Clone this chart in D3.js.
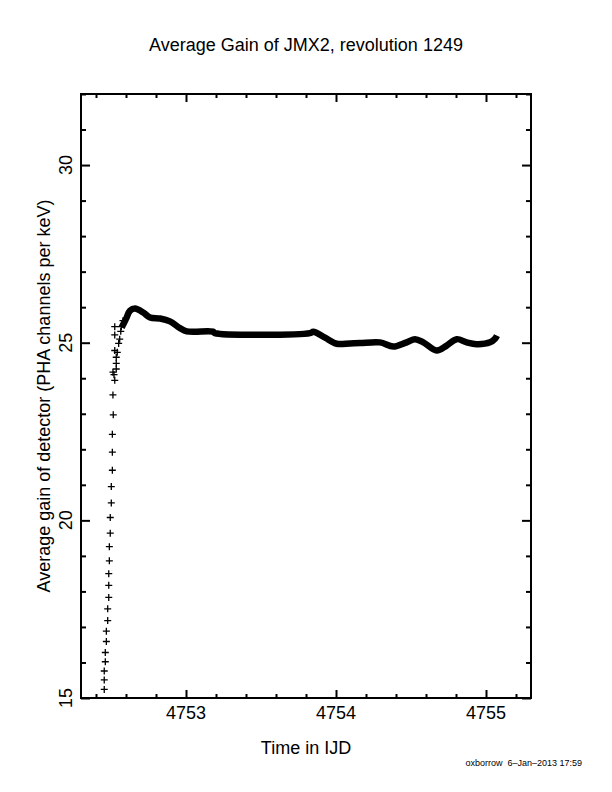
<!DOCTYPE html>
<html>
<head>
<meta charset="utf-8">
<script src="https://cdn.jsdelivr.net/npm/d3@7"></script>
<style>
  body { margin: 0; background: #fff; }
  text { font-family: "Liberation Sans", Arial, sans-serif; fill: #000; }
</style>
</head>
<body>
<script>
// early ramp: separate plus markers
var rampTime = [4752.455, 4752.455, 4752.455, 4752.462, 4752.462, 4752.469, 4752.469, 4752.478,
                4752.478, 4752.485, 4752.485, 4752.485, 4752.489, 4752.489, 4752.495, 4752.495,
                4752.502, 4752.502, 4752.509, 4752.509, 4752.509, 4752.515, 4752.513, 4752.513,
                4752.525, 4752.520, 4752.535, 4752.535, 4752.535, 4752.525, 4752.542, 4752.551,
                4752.558, 4752.525, 4752.565, 4752.525, 4752.569, 4752.580];
var rampGain = [15.24, 15.51, 15.76, 16.02, 16.28, 16.59, 16.88, 17.18,
                17.51, 17.83, 18.17, 18.50, 18.86, 19.26, 19.64, 20.08,
                20.49, 20.95, 21.41, 21.92, 22.42, 22.97, 23.53, 24.17,
                23.94, 24.10, 24.26, 24.42, 24.59, 24.78, 24.73, 24.98,
                25.10, 25.22, 25.32, 25.45, 25.45, 25.62];

// dense part: markers overlap into a thick curve
var curveTime = [4752.571, 4752.600, 4752.627, 4752.660, 4752.715, 4752.760, 4752.827, 4752.893,
                 4752.960, 4753.005, 4753.180, 4753.193, 4753.827, 4753.849, 4753.927, 4754.005,
                 4754.093, 4754.160, 4754.293, 4754.382, 4754.471, 4754.527, 4754.582, 4754.671,
                 4754.738, 4754.805, 4754.871, 4754.938, 4755.027, 4755.060, 4755.073];
var curveGain = [25.43, 25.67, 25.90, 25.96, 25.85, 25.71, 25.68, 25.60,
                 25.41, 25.32, 25.31, 25.27, 25.27, 25.31, 25.14, 24.97,
                 24.98, 24.99, 25.01, 24.89, 25.01, 25.10, 25.01, 24.78,
                 24.92, 25.10, 25.01, 24.96, 25.01, 25.11, 25.20];

var xMajor = [4753, 4754, 4755];
var yMajor = [15, 20, 25, 30];

var W = 612, H = 792;
var pLeft = 81, pRight = 531, pTop = 94, pBottom = 698;

var svg = d3.select('body').append('svg')
    .attr('width', W)
    .attr('height', H);

var x = d3.scaleLinear().domain([4752.3, 4755.3]).range([pLeft, pRight]);
var y = d3.scaleLinear().domain([15, 32]).range([pBottom, pTop]);

var xMinor = d3.range(4752.4, 4755.3, 0.2).filter(function (v) {
    return Math.abs(v - Math.round(v)) > 0.01;
});
var yMinor = d3.range(16, 32.5, 1).filter(function (v) { return v % 5 != 0; });

function ticks(axis, vals, len) {
    return axis.tickValues(vals).tickSize(-len).tickFormat('');
}

var axes = svg.append('g').attr('class', 'axes');

function drawAxis(gen, tr) {
    var g = axes.append('g').attr('transform', tr).call(gen);
    g.select('.domain').remove();
    g.selectAll('line').attr('stroke', '#000').attr('stroke-width', 2);
    return g;
}

drawAxis(ticks(d3.axisBottom(x), xMajor, 8), 'translate(0,' + pBottom + ')');
drawAxis(ticks(d3.axisBottom(x), xMinor, 4), 'translate(0,' + pBottom + ')');
drawAxis(ticks(d3.axisTop(x), xMajor, 8), 'translate(0,' + pTop + ')');
drawAxis(ticks(d3.axisTop(x), xMinor, 4), 'translate(0,' + pTop + ')');
drawAxis(ticks(d3.axisLeft(y), yMajor, 9), 'translate(' + pLeft + ',0)');
drawAxis(ticks(d3.axisLeft(y), yMinor, 5), 'translate(' + pLeft + ',0)');
drawAxis(ticks(d3.axisRight(y), yMajor, 9), 'translate(' + pRight + ',0)');
drawAxis(ticks(d3.axisRight(y), yMinor, 5), 'translate(' + pRight + ',0)');

svg.append('rect')
    .attr('x', pLeft).attr('y', pTop)
    .attr('width', pRight - pLeft).attr('height', pBottom - pTop)
    .attr('fill', 'none').attr('stroke', '#000').attr('stroke-width', 2);

// tick labels
svg.selectAll('.xlab').data(xMajor).enter().append('text')
    .attr('class', 'xlab')
    .attr('x', function (d) { return x(d); })
    .attr('y', 719)
    .attr('text-anchor', 'middle')
    .style('font-size', '18px')
    .text(function (d) { return d; });

svg.selectAll('.ylab').data(yMajor).enter().append('text')
    .attr('class', 'ylab')
    .attr('transform', function (d) { return 'translate(71.5,' + y(d) + ') rotate(-90)'; })
    .attr('text-anchor', 'middle')
    .style('font-size', '18px')
    .text(function (d) { return d; });

// data
var line = d3.line()
    .x(function (d) { return x(d[0]); })
    .y(function (d) { return y(d[1]); })
    .curve(d3.curveCatmullRom);

svg.append('path')
    .datum(d3.zip(curveTime, curveGain))
    .attr('d', line)
    .attr('fill', 'none')
    .attr('stroke', '#000')
    .attr('stroke-width', 6.5)
    .attr('stroke-linejoin', 'round')
    .attr('stroke-linecap', 'butt');

svg.selectAll('.pt').data(d3.zip(rampTime, rampGain)).enter().append('path')
    .attr('class', 'pt')
    .attr('transform', function (d) { return 'translate(' + x(d[0]) + ',' + y(d[1]) + ')'; })
    .attr('d', 'M-3.5,0H3.5M0,-3.5V3.5')
    .attr('stroke', '#000')
    .attr('stroke-width', 1.3);

// titles
svg.append('text')
    .attr('x', 306).attr('y', 51)
    .attr('text-anchor', 'middle')
    .style('font-size', '18px')
    .text('Average Gain of JMX2, revolution 1249');

svg.append('text')
    .attr('x', 306).attr('y', 754)
    .attr('text-anchor', 'middle')
    .style('font-size', '18px')
    .text('Time in IJD');

svg.append('text')
    .attr('transform', 'translate(50,' + ((pTop + pBottom) / 2) + ') rotate(-90)')
    .attr('text-anchor', 'middle')
    .style('font-size', '18px')
    .text('Average gain of detector (PHA channels per keV)');

svg.append('text')
    .attr('x', 582).attr('y', 766)
    .attr('text-anchor', 'end')
    .style('font-size', '9px')
    .style('white-space', 'pre')
    .text('oxborrow  6\u2013Jan\u20132013 17:59');
</script>
</body>
</html>
